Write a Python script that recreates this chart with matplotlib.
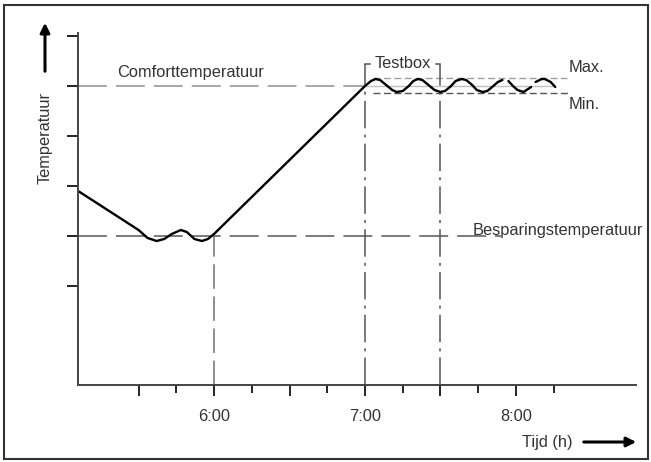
import numpy as np
import matplotlib
matplotlib.use('Agg')
import matplotlib.pyplot as plt
from matplotlib import font_manager
from matplotlib.patches import Rectangle

# smal lettertype als dat er is, anders gewone Liberation Sans iets kleiner
namen = {f.name for f in font_manager.fontManager.ttflist}
if 'Liberation Sans Narrow' in namen:
    plt.rcParams['font.family'] = ['Liberation Sans Narrow', 'DejaVu Sans']
    fs = 14
else:
    plt.rcParams['font.family'] = ['Liberation Sans', 'DejaVu Sans']
    fs = 11.8

# temperatuurverloop (tijd in uren, temperatuur in willekeurige graden)
tijd = [5.10, 5.50, 5.56, 5.62, 5.67, 5.72, 5.78, 5.82, 5.87, 5.92, 5.96, 6.00,
        7.00, 7.04, 7.07, 7.10, 7.14, 7.18, 7.21, 7.25, 7.29, 7.32, 7.35, 7.38,
        7.42, 7.46, 7.50, 7.53, 7.57, 7.60, 7.64, 7.67, 7.71, 7.74, 7.78, 7.81,
        7.85, 7.88, 7.91, np.nan,
        7.95, 7.98, 8.01, 8.05, 8.07, 8.10, np.nan,
        8.13, 8.17, 8.19, 8.23, 8.26]
temp = [16.90, 16.12, 15.96, 15.90, 15.94, 16.04, 16.12, 16.08, 15.94, 15.90, 15.94, 16.04,
        19.00, 19.10, 19.14, 19.12, 19.02, 18.92, 18.88, 18.90, 19.00, 19.10, 19.14, 19.12,
        19.02, 18.92, 18.88, 18.90, 19.00, 19.10, 19.14, 19.12, 19.02, 18.92, 18.88, 18.90,
        19.00, 19.08, 19.12, np.nan,
        19.10, 19.00, 18.92, 18.88, 18.92, 18.98, np.nan,
        19.08, 19.14, 19.14, 19.08, 18.98]

comfort = 19.0
besparing = 16.0
max_temp = 19.16
min_temp = 18.86
testbox = (7.0, 7.5)
testbox_top = 19.44

fig = plt.figure(figsize=(6.51, 4.62), dpi=100)
ax = fig.add_axes([78 / 651, 77 / 462, 558 / 651, 352 / 462])
ax.set_xlim(5.099, 8.795)
ax.set_ylim(13.02, 20.06)

grijs = '#a0a0a0'
donker = '#707070'
tekst = '#333333'

# referentielijnen
ax.plot([5.099, 7.0], [comfort, comfort], color=grijs, lw=1.3, dashes=(16, 5))
ax.plot([7.0, 8.26], [comfort, comfort], color='#c0c0c0', lw=1.0)
ax.plot([5.099, 7.9], [besparing, besparing], color=donker, lw=1.3, dashes=(16, 5))
ax.plot([7.05, 8.34], [max_temp, max_temp], color=grijs, lw=1.0, dashes=(5, 2.5))
ax.plot([7.05, 8.35], [min_temp, min_temp], color='#555555', lw=1.0, dashes=(5, 2.5))

# verticale hulplijnen
ax.plot([6.0, 6.0], [13.02, besparing], color=donker, lw=1.1, dashes=(16, 5))
for t in testbox:
    ax.plot([t, t], [13.02, testbox_top], color='#555555', lw=1.1, dashes=(18, 4, 2, 4))
ax.plot([7.0, 7.03], [testbox_top, testbox_top], color='#555555', lw=1.1)
ax.plot([7.47, 7.5], [testbox_top, testbox_top], color='#555555', lw=1.1)

# temperatuurcurve
ax.plot(tijd, temp, color='black', lw=1.7, solid_capstyle='round')

ax.text(7.25, testbox_top + 0.02, 'Testbox', ha='center', va='center', fontsize=fs, color=tekst)
ax.text(5.36, comfort + 0.12, 'Comforttemperatuur', ha='left', va='bottom', fontsize=fs, color=tekst)
ax.text(7.71, besparing - 0.04, 'Besparingstemperatuur', ha='left', va='bottom', fontsize=fs, color=tekst)
ax.text(8.35, 19.38, 'Max.', ha='left', va='center', fontsize=fs, color=tekst)
ax.text(8.35, 18.64, 'Min.', ha='left', va='center', fontsize=fs, color=tekst)

# assen
for s in ['top', 'right']:
    ax.spines[s].set_visible(False)
for s in ['left', 'bottom']:
    ax.spines[s].set_color('#444444')
    ax.spines[s].set_linewidth(1.4)

ax.set_yticks([15, 16, 17, 18, 19, 20])
ax.set_yticklabels([])
ax.set_xticks([5.5, 6.0, 6.5, 7.0, 7.5, 8.0])
ax.set_xticklabels(['', '6:00', '', '7:00', '', '8:00'], fontsize=fs, color=tekst)
ax.set_xticks([5.75, 6.25, 6.75, 7.25, 7.75, 8.25], minor=True)
ax.tick_params(axis='both', which='major', length=8, width=1.4, color='#222222')
ax.tick_params(axis='x', which='minor', length=6, width=1.4, color='#222222')
ax.tick_params(axis='x', which='major', pad=9)

# aslabels met pijlen
fig.text(45 / 651, 1 - 92 / 462, 'Temperatuur', rotation=90, ha='center', va='top',
         fontsize=fs, color=tekst)
fig.text(573 / 651, 1 - 442 / 462, 'Tijd (h)', ha='right', va='center', fontsize=fs, color=tekst)
ax.annotate('', xy=(45 / 651, 1 - 20 / 462), xytext=(45 / 651, 1 - 74 / 462),
            xycoords='figure fraction',
            arrowprops=dict(arrowstyle='-|>', lw=2.2, color='black', mutation_scale=14))
ax.annotate('', xy=(639 / 651, 1 - 442 / 462), xytext=(581 / 651, 1 - 442 / 462),
            xycoords='figure fraction',
            arrowprops=dict(arrowstyle='-|>', lw=2.2, color='black', mutation_scale=14))

# kader rond de figuur
fig.patches.append(Rectangle((4 / 651, 3 / 462), 644 / 651, 454 / 462, transform=fig.transFigure,
                             fill=False, edgecolor='#333333', lw=1.5))

fig.savefig('out.png', dpi=100)
